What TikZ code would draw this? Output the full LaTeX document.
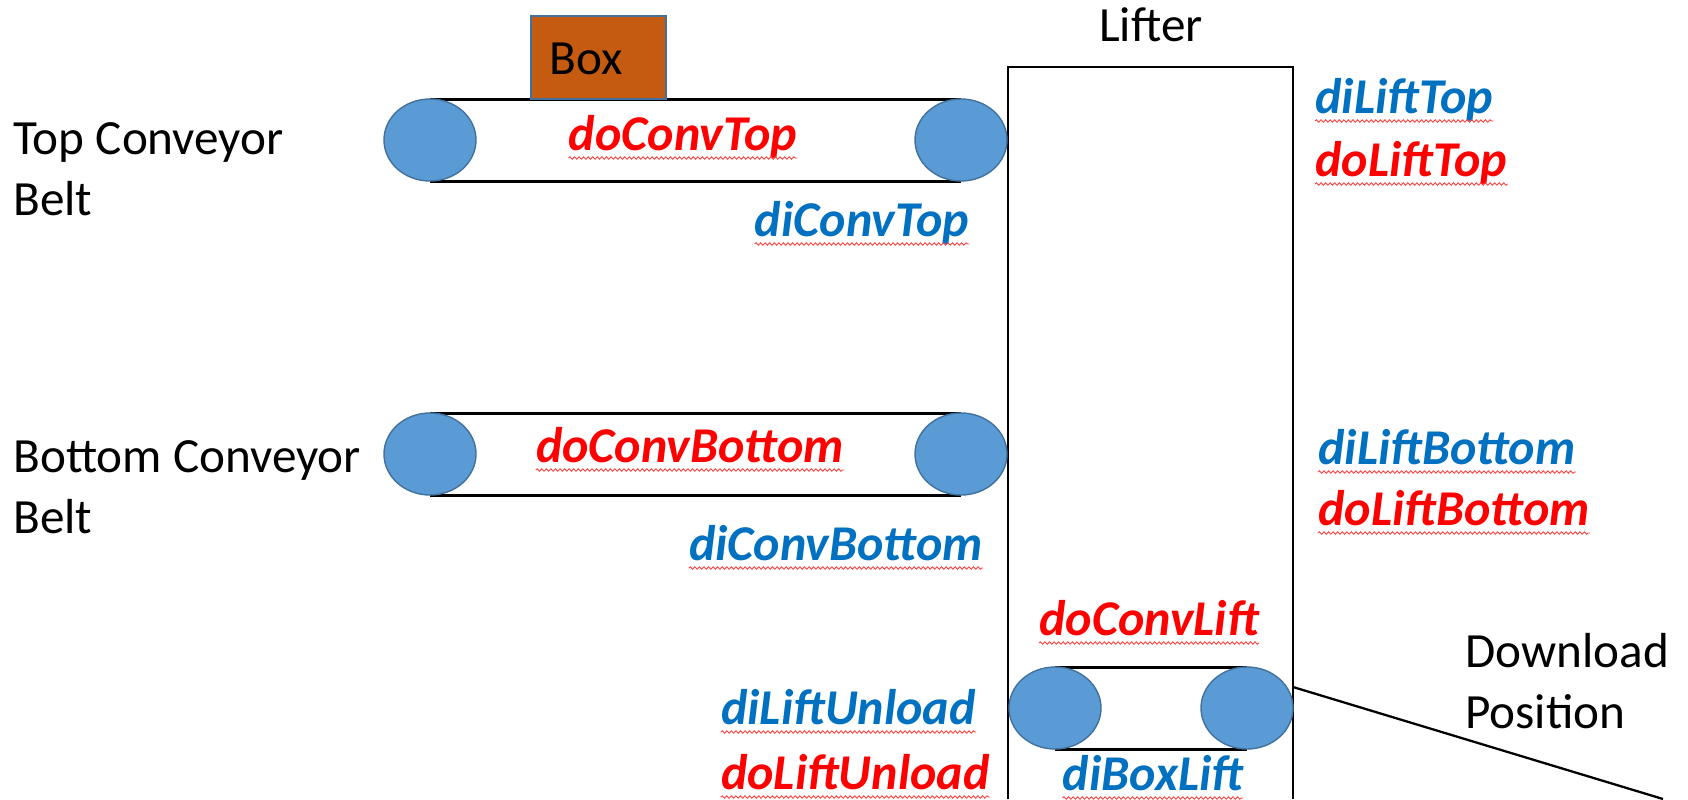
\documentclass[tikz,border=0pt]{standalone}
\usepackage{fontspec}
\setmainfont{Carlito}
\usetikzlibrary{decorations.pathmorphing}

\definecolor{rollerblue}{HTML}{5B9BD5}
\definecolor{rolleredge}{HTML}{41719C}
\definecolor{boxbrown}{HTML}{C55A11}
\definecolor{sigred}{HTML}{FF0000}
\definecolor{sigblue}{HTML}{0070C0}

\tikzset{
    roller/.style={fill=rollerblue,draw=rolleredge,line width=0.8pt},
    belt/.style={line width=1.7pt},
    txt/.style={inner sep=0pt,font=\fontsize{28}{34.7}\selectfont},
    dosig/.style={inner sep=0pt,text=sigred,font=\fontsize{28.5}{34.7}\selectfont\bfseries\itshape},
    disig/.style={dosig,text=sigblue},
    squiggle/.style={draw=red!75,line width=0.5pt,decorate,decoration={snake,amplitude=0.7pt,segment length=2.6pt}}
}

\begin{document}
\begin{tikzpicture}[x=0.02cm,y=-0.02cm]
            \path[use as bounding box] (0,0) rectangle (1688,799);

            % lifter shaft, open at the bottom
            \draw[line width=1.5pt] (1008,799) |- (1293,67) -- (1293,799);
            \node[txt,anchor=base] (lifter) at (1151,41) {Lifter};
            \coordinate (liftout) at (1293,687);
            \coordinate (downend) at (1663,799);
            \draw[line width=1.3pt] (liftout) -- (downend);

            % conveyors: top, bottom, lift
            \foreach \xa/\xb/\y in {430/961/140, 430/961/454, 1055/1247/708} {
                \draw[belt] (\xa,\y-41) -- (\xb,\y-41);
                \draw[belt] (\xa,\y+41) -- (\xb,\y+41);
                \draw[roller] (\xa,\y) ellipse (46 and 41);
                \draw[roller] (\xb,\y) ellipse (46 and 41);
            }

            \draw[fill=boxbrown,draw=rolleredge,line width=1.3pt] (531,16) rectangle (666,99);
            \node[txt,anchor=base] (box) at (586,74) {Box};

            % base of a two-line node is its last line
            \node[txt,anchor=base west,align=left] (topbelt) at (13,215) {Top Conveyor\\Belt};
            \node[txt,anchor=base west,align=left] (bottombelt) at (13,533) {Bottom Conveyor\\Belt};
            \node[txt,anchor=base west,align=left] (download) at (1465,728) {Download\\Position};

            % signals
            \node[dosig,anchor=base] (doConvTop) at (683,150) {doConvTop};
            \node[disig,anchor=base] (diConvTop) at (862,236) {diConvTop};
            \node[disig,anchor=base west] (diLiftTop) at (1315,113) {diLiftTop};
            \node[dosig,anchor=base west] (doLiftTop) at (1315,176) {doLiftTop};
            \node[dosig,anchor=base] (doConvBottom) at (690,462) {doConvBottom};
            \node[disig,anchor=base] (diConvBottom) at (836,560) {diConvBottom};
            \node[disig,anchor=base west] (diLiftBottom) at (1318,464) {diLiftBottom};
            \node[dosig,anchor=base west] (doLiftBottom) at (1318,525) {doLiftBottom};
            \node[dosig,anchor=base] (doConvLift) at (1149,635) {doConvLift};
            \node[disig,anchor=base east] (diLiftUnload) at (976,724) {diLiftUnload};
            \node[dosig,anchor=base east] (doLiftUnload) at (990,789) {doLiftUnload};
            \node[disig,anchor=base] (diBoxLift) at (1153,790) {diBoxLift};

            \foreach \n in {doConvTop,diConvTop,diLiftTop,doLiftTop,doConvBottom,diConvBottom,
                diLiftBottom,doLiftBottom,doConvLift,diLiftUnload,doLiftUnload,diBoxLift} {
                \draw[squiggle] ([yshift=-0.16cm]\n.base west) -- ([yshift=-0.16cm]\n.base east);
            }
        \end{tikzpicture}
\end{document}
